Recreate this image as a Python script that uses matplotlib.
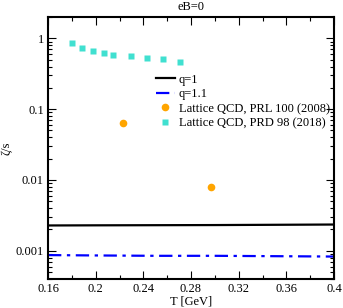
import numpy as np
import matplotlib.pyplot as plt
from matplotlib.ticker import FixedLocator, FixedFormatter, MultipleLocator, LogLocator, NullFormatter

plt.rcParams['font.family'] = ['Liberation Serif', 'DejaVu Serif']

# model curves
T_model = [0.16, 0.2, 0.25, 0.3, 0.35, 0.4]
zeta_q1 = [0.00228, 0.00229, 0.00230, 0.00231, 0.00233, 0.00235]
zeta_q11 = [0.00087, 0.00086, 0.00085, 0.00085, 0.00084, 0.00083]

# lattice QCD, PRL 100 (2008)
T_prl = [0.2232, 0.297]
zeta_prl = [0.0645, 0.0079]

# lattice QCD, PRD 98 (2018)
T_prd = [0.180, 0.1885, 0.1978, 0.207, 0.2143, 0.2297, 0.243, 0.2565, 0.2705]
zeta_prd = [0.858, 0.721, 0.66, 0.627, 0.587, 0.555, 0.525, 0.504, 0.457]

xticks = [0.16, 0.2, 0.24, 0.28, 0.32, 0.36, 0.4]
xticklabels = ['0.16', '0.2', '0.24', '0.28', '0.32', '0.36', '0.4']
yticks = [0.001, 0.01, 0.1, 1]
yticklabels = ['0.001', '0.01', '0.1', '1']

fs = 9

fig = plt.figure(figsize=(3.43, 3.08), dpi=100)
ax = fig.add_axes([48/343, 1-279/308, 286/343, 262/308])

ax.plot(T_model, zeta_q1, color='black', lw=1.6, label='q=1')
ax.plot(T_model, zeta_q11, color='blue', lw=1.6, ls=(0, (6, 2.5, 1.5, 2.5)), label='q=1.1')
ax.plot(T_prl, zeta_prl, 'o', color='orange', ms=5.5, mec='none', label='Lattice QCD, PRL 100 (2008)')
ax.plot(T_prd, zeta_prd, 's', color='turquoise', ms=5, mec='none', label='Lattice QCD, PRD 98 (2018)')

ax.set_yscale('log')
ax.set_xlim(0.16, 0.4)
ax.set_ylim(0.0004, 2)

ax.xaxis.set_major_locator(FixedLocator(xticks))
ax.xaxis.set_major_formatter(FixedFormatter(xticklabels))
ax.xaxis.set_minor_locator(MultipleLocator(0.02))
ax.yaxis.set_major_locator(FixedLocator(yticks))
ax.yaxis.set_major_formatter(FixedFormatter(yticklabels))
ax.yaxis.set_minor_locator(LogLocator(base=10, subs=np.arange(2, 10)))
ax.yaxis.set_minor_formatter(NullFormatter())

ax.tick_params(which='both', direction='in', top=True, right=True, labelsize=fs, width=0.8)
ax.tick_params(which='major', length=6, pad=3)
ax.tick_params(which='minor', length=3)
for s in ax.spines.values():
    s.set_linewidth(1.5)

ax.set_xlabel('T [GeV]', fontsize=fs, labelpad=0)
ax.set_ylabel('ζ/s', fontsize=fs)
ax.yaxis.set_label_coords(-0.125, 0.5)
ax.set_title('eB=0', fontsize=fs, pad=5)

ax.legend(loc='upper left', bbox_to_anchor=(0.377, 0.783), frameon=False, fontsize=fs,
          handlelength=1.5, handletextpad=0.35, labelspacing=0.2, borderaxespad=0,
          borderpad=0)

fig.savefig('out.png', dpi=100)
